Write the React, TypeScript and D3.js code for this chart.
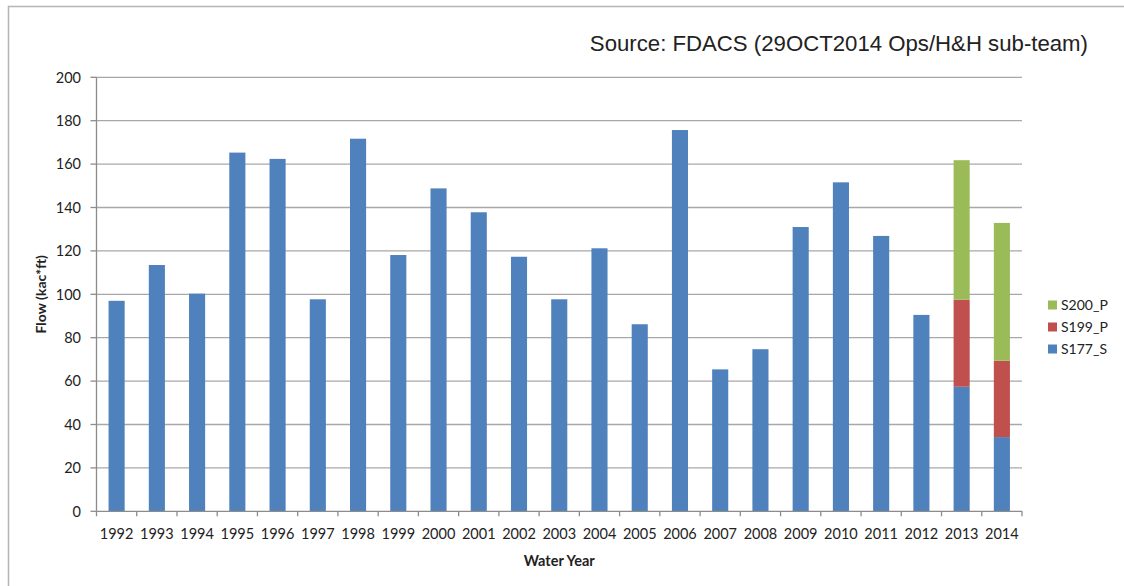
import * as d3 from 'd3';

const YEARS = [
  '1992', '1993', '1994', '1995', '1996', '1997', '1998', '1999', '2000', '2001', '2002', '2003',
  '2004', '2005', '2006', '2007', '2008', '2009', '2010', '2011', '2012', '2013', '2014',
];
const S177_S = [
  97, 113.5, 100.3, 165.3, 162.4, 97.7, 171.7, 118.1, 148.8, 137.8, 117.3, 97.7,
  121.2, 86.2, 175.7, 65.4, 74.7, 131, 151.6, 126.9, 90.5, 57.4, 34.2,
];
const S199_P = [0, 0, 0, 0, 0, 0, 0, 0, 0, 0, 0, 0, 0, 0, 0, 0, 0, 0, 0, 0, 0, 40.1, 35.2];
const S200_P = [0, 0, 0, 0, 0, 0, 0, 0, 0, 0, 0, 0, 0, 0, 0, 0, 0, 0, 0, 0, 0, 64.3, 63.5];
const Y_TICKS = [0, 20, 40, 60, 80, 100, 120, 140, 160, 180, 200];

const KEYS = ['S177_S', 'S199_P', 'S200_P'];
const COLORS: Record<string, string> = { S177_S: '#4f81bd', S199_P: '#c0504d', S200_P: '#9bbb59' };
const LEGEND_ORDER = ['S200_P', 'S199_P', 'S177_S'];

const W = 1124;
const H = 586;
const PLOT = { left: 96.5, right: 1022, top: 77.3, bottom: 511.3 };
const FONT = 'Lato, "Open Sans", sans-serif';

export default function App() {
  const rows = YEARS.map((year, i) => ({ year, S177_S: S177_S[i], S199_P: S199_P[i], S200_P: S200_P[i] }));
  const series = d3.stack<any>().keys(KEYS)(rows);

  const x = d3.scaleBand<string>().domain(YEARS).range([PLOT.left, PLOT.right]).paddingInner(0.6).paddingOuter(0.3);
  const y = d3.scaleLinear().domain([0, 200]).range([PLOT.bottom, PLOT.top]);
  const step = x.step();

  return (
    <svg width={W} height={H} style={{ position: 'absolute', left: 0, top: 0, background: '#fff' }}>
      {/* outer frame */}
      <rect x={8.5} y={6.5} width={W + 20} height={H + 20} fill="none" stroke="#b5b5b5" strokeWidth={1.5} />

      <text x={1088} y={51} textAnchor="end" fontFamily='"Liberation Sans", Arial, sans-serif' fontSize={22.2} fill="#222">
        Source: FDACS (29OCT2014 Ops/H&amp;H sub-team)
      </text>

      {/* gridlines */}
      {Y_TICKS.filter(t => t > 0).map(t => (
        <line key={t} x1={PLOT.left} x2={PLOT.right} y1={y(t)} y2={y(t)} stroke="#a8a8a8" strokeWidth={1.3} />
      ))}

      {/* bars */}
      {series.map(s => (
        <g key={s.key} fill={COLORS[s.key]}>
          {s.map((d, i) => d[1] - d[0] > 0 ? (
            <rect key={i} x={x(YEARS[i])!} width={x.bandwidth()} y={y(d[1])} height={y(d[0]) - y(d[1])} />
          ) : null)}
        </g>
      ))}

      {/* y axis */}
      <line x1={PLOT.left} x2={PLOT.left} y1={PLOT.top} y2={PLOT.bottom} stroke="#8c8c8c" strokeWidth={1.3} />
      {Y_TICKS.map(t => (
        <g key={t}>
          <line x1={PLOT.left - 6} x2={PLOT.left} y1={y(t)} y2={y(t)} stroke="#8c8c8c" strokeWidth={1.3} />
          <text x={81} y={y(t)} dy="0.36em" textAnchor="end" fontFamily={FONT} fontSize={14.5} fill="#222">{t}</text>
        </g>
      ))}

      {/* x axis */}
      <line x1={PLOT.left} x2={PLOT.right} y1={PLOT.bottom} y2={PLOT.bottom} stroke="#8c8c8c" strokeWidth={1.3} />
      {d3.range(YEARS.length + 1).map(i => {
        const tx = PLOT.left + i * step;
        return <line key={i} x1={tx} x2={tx} y1={PLOT.bottom} y2={PLOT.bottom + 5} stroke="#8c8c8c" strokeWidth={1.3} />;
      })}
      {YEARS.map(yr => (
        <text key={yr} x={x(yr)! + x.bandwidth() / 2} y={539} textAnchor="middle" fontFamily={FONT} fontSize={14.5} fill="#222">{yr}</text>
      ))}

      <text x={(PLOT.left + PLOT.right) / 2} y={566} textAnchor="middle" fontFamily={FONT} fontSize={14.5} fontWeight="bold" fill="#222">Water Year</text>
      <text transform={`translate(46,${(PLOT.top + PLOT.bottom) / 2}) rotate(-90)`} textAnchor="middle" fontFamily={FONT} fontSize={14} fontWeight="bold" fill="#222">Flow (kac*ft)</text>

      {/* legend */}
      {LEGEND_ORDER.map((k, i) => (
        <g key={k} transform={`translate(1048,${305 + i * 22})`}>
          <rect x={0} y={-4.5} width={9} height={9} fill={COLORS[k]} />
          <text x={13} y={0} dy="0.36em" fontFamily={FONT} fontSize={14} fill="#222">{k}</text>
        </g>
      ))}
    </svg>
  );
}
